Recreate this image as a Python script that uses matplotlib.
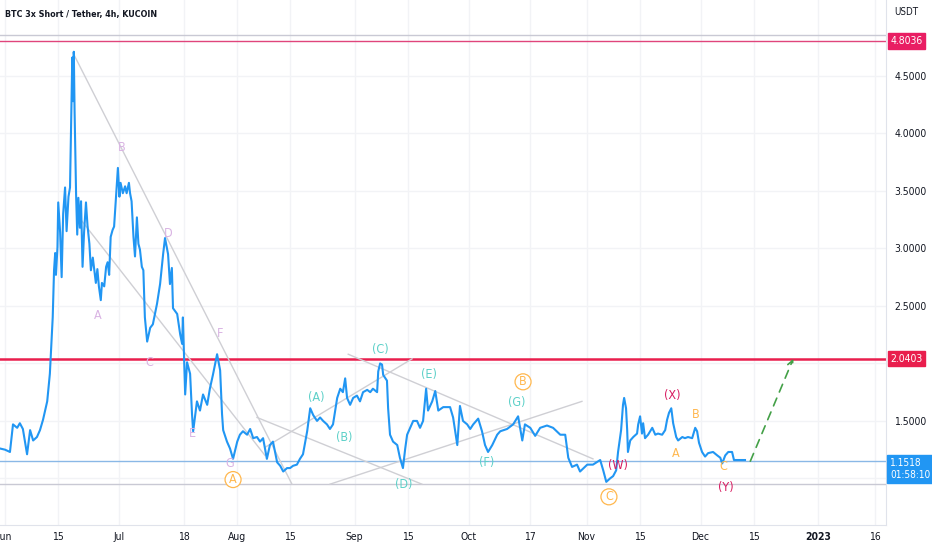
import matplotlib
matplotlib.use("Agg")
import matplotlib.pyplot as plt
import matplotlib.transforms as mtransforms
import numpy as np
import pandas as pd

# Вузький шрифт, як у TradingView
plt.rcParams['font.family'] = ['DejaVu Sans']
plt.rcParams['font.stretch'] = 'condensed'

# Дані ціни (дні від 2022-06-01, ціна в USDT)
days = [-1.3, 0.0, 1.3, 2.1, 3.2, 3.9, 4.7, 5.8, 6.6, 7.4, 8.4, 9.2, 10.0, 11.1, 11.8,
        12.55, 12.9, 13.2, 13.4, 13.8, 14.0, 14.5, 14.9, 15.3, 15.8, 16.2, 16.7, 17.1,
        17.4, 17.7, 17.9, 18.1, 18.3, 18.7, 19.0, 19.3, 19.7, 20.0, 20.4, 20.8, 21.3,
        21.7, 22.2, 22.6, 23.1, 23.5, 23.9, 24.3, 24.7, 25.2, 25.5, 26.1, 26.6, 27.0,
        27.4, 27.8, 28.3, 28.7, 29.2, 29.7, 30.1, 30.4, 31.0, 31.6, 32.0, 32.6, 32.9,
        33.3, 33.8, 34.2, 34.7, 35.1, 35.5, 36.0, 36.4, 36.8,
        37.4, 38.2, 38.9, 40.0, 40.8, 41.6, 42.1, 42.9, 43.4,
        43.9, 44.2, 45.3, 46.1, 46.6, 46.8, 47.4, 47.9, 48.7, 49.2, 49.5, 50.5, 51.3,
        52.1, 53.2, 53.9, 54.7, 55.8, 56.6, 57.1, 57.4, 58.4, 59.2, 60.0, 61.1, 61.8,
        62.6, 63.7, 64.5, 65.3, 66.3, 67.1, 67.9, 68.9, 69.7, 70.5, 71.6, 72.4, 73.2,
        74.2, 75.0, 75.8, 76.8, 77.6, 78.4, 79.5, 80.3, 81.1, 82.1, 82.9, 83.7, 84.7,
        85.5, 86.3, 87.4, 88.2, 88.9, 89.5, 90.0, 90.8, 91.6, 92.6, 93.4, 94.2, 95.3,
        96.1, 96.8, 97.9, 98.2, 98.7, 99.2, 99.5, 100.5, 100.8, 101.3, 102.1, 103.2,
        103.9, 104.7, 105.3, 105.8, 106.6, 107.4, 108.4, 109.2, 110.0, 110.8, 111.3,
        112.4, 113.2, 114.0, 115.3, 116.3, 117.1, 117.9, 119.0, 119.7, 120.5, 121.6,
        122.4, 123.2, 124.5, 125.5, 126.3, 127.1, 128.2, 129.5, 130.3, 132.1, 133.7,
        135.0, 136.1, 136.8, 138.2, 139.5, 140.8, 142.6, 144.2, 146.1, 147.4, 148.2,
        149.2, 150.5, 151.3, 153.2, 154.7,
        156.6, 157.4, 158.2, 159.2, 160.0, 160.8, 161.3, 162.1, 162.6, 162.9, 163.4,
        163.7, 163.9, 164.5, 165.3, 166.3, 166.6, 167.1, 167.6, 167.9, 168.4, 169.2,
        170.3, 171.1, 171.8, 172.9, 173.7, 174.2, 174.7, 175.3, 175.8, 176.6, 177.1,
        178.2, 178.9, 179.7, 180.8, 181.6, 182.1, 182.6, 183.4, 184.2, 185.0, 186.3,
        187.4, 188.2, 188.7, 189.5, 190.3, 191.3, 191.8, 192.9, 194.7]
price = [1.26, 1.25, 1.23, 1.47, 1.44, 1.48, 1.43, 1.21, 1.42, 1.33, 1.36, 1.42, 1.51,
         1.67, 1.91,
         2.40, 2.81, 2.96, 2.77, 3.01, 3.40, 3.14, 2.75, 3.30, 3.53, 3.15, 3.45, 3.53,
         4.09, 4.66, 4.28, 4.71, 4.20, 3.47, 3.12, 3.44, 3.18, 3.41, 2.84, 3.14, 3.40,
         3.20, 3.04, 2.81, 2.92, 2.81, 2.70, 2.82, 2.67, 2.55, 2.70, 2.67, 2.84, 2.88,
         2.77, 3.10, 3.16, 3.19, 3.45, 3.70, 3.45, 3.57, 3.48, 3.54, 3.48, 3.57, 3.48,
         3.41, 3.10, 2.93, 3.27, 3.04, 2.99, 2.84, 2.81, 2.40,
         2.19, 2.31, 2.34, 2.52, 2.69, 2.95, 3.09,
         2.95, 2.69, 2.83, 2.48, 2.43, 2.25, 2.17, 2.40, 1.73, 2.01, 1.91, 1.56, 1.41,
         1.67, 1.59, 1.73, 1.64, 1.78, 1.90, 2.08, 1.94, 1.56, 1.42, 1.32, 1.26, 1.17,
         1.32, 1.38, 1.41, 1.38, 1.43, 1.35, 1.36, 1.32, 1.35, 1.17, 1.29, 1.32, 1.14,
         1.11, 1.06, 1.09, 1.09, 1.11, 1.12, 1.17, 1.21, 1.41, 1.61, 1.55, 1.50, 1.53,
         1.50, 1.47, 1.43, 1.47, 1.70, 1.78, 1.75, 1.87, 1.70, 1.64, 1.70, 1.72, 1.67,
         1.75, 1.77, 1.75, 1.78, 1.75, 1.93, 2.00, 1.99, 1.90, 1.85, 1.61, 1.38, 1.32,
         1.29, 1.18, 1.09, 1.26, 1.38, 1.44, 1.50, 1.50, 1.44, 1.50, 1.78, 1.59, 1.67,
         1.76, 1.59, 1.62, 1.62, 1.62, 1.53, 1.29, 1.63, 1.50, 1.47, 1.43, 1.47, 1.52,
         1.41, 1.29, 1.23, 1.29, 1.38, 1.41, 1.43, 1.47, 1.54, 1.33, 1.47, 1.44, 1.37,
         1.44, 1.46, 1.44, 1.38, 1.38, 1.18, 1.10, 1.12, 1.06, 1.12, 1.12,
         1.16, 1.07, 0.97, 1.00, 1.02, 1.07, 1.23, 1.42, 1.64, 1.70, 1.61,
         1.42, 1.23, 1.33, 1.36, 1.39, 1.47, 1.54, 1.39, 1.48, 1.35, 1.38,
         1.44, 1.38, 1.39, 1.38, 1.42, 1.51, 1.57, 1.61, 1.48, 1.36, 1.33,
         1.36, 1.35, 1.36, 1.35, 1.44, 1.41, 1.31, 1.23, 1.19, 1.22, 1.23,
         1.20, 1.18, 1.13, 1.20, 1.23, 1.23, 1.16, 1.16, 1.16]

# Горизонтальні рівні
red_levels = [4.8036, 2.0403]
last_price = 1.1518
gray_levels = [4.856, 0.951]

# Трендові лінії: (день0, ціна0, день1, ціна1)
trend_lines = [
    (17.9, 4.70, 75.5, 0.95),
    (19.7, 3.26, 68.4, 1.20),
    (66.3, 1.53, 109.7, 0.95),
    (68.4, 1.27, 107.1, 2.04),
    (90.3, 2.08, 154.7, 1.17),
    (85.5, 0.95, 151.8, 1.67),
]

# Хвильова розмітка: (текст, день, ціна, колір, в колі)
lav = '#d9b3e3'
teal = '#5cd0c8'
org = '#ffb74d'
crim = '#d81b60'
wave_labels = [
    ('B', 30.8, 3.88, lav, False), ('A', 24.5, 2.42, lav, False),
    ('D', 42.9, 3.13, lav, False), ('C', 37.9, 2.01, lav, False),
    ('F', 56.6, 2.26, lav, False), ('E', 49.2, 1.39, lav, False),
    ('G', 59.2, 1.13, lav, False),
    ('A', 60.0, 0.99, org, True), ('B', 136.3, 1.84, org, True),
    ('C', 158.9, 0.84, org, True),
    ('(A)', 81.8, 1.70, teal, False), ('(B)', 89.2, 1.36, teal, False),
    ('(C)', 98.7, 2.12, teal, False), ('(D)', 105.0, 0.95, teal, False),
    ('(E)', 111.6, 1.90, teal, False), ('(F)', 126.8, 1.14, teal, False),
    ('(G)', 134.7, 1.66, teal, False),
    ('(W)', 161.3, 1.11, crim, False), ('(X)', 175.5, 1.72, crim, False),
    ('(Y)', 189.7, 0.92, crim, False),
    ('A', 176.6, 1.22, org, False), ('B', 181.6, 1.56, org, False),
    ('C', 188.9, 1.10, org, False),
]

# Прогноз (зелена пунктирна стрілка)
proj_start = (196.1, 1.15)
proj_end = (207.4, 2.04)

# Підписи осі дат
tick_dates = ['2022-06-01', '2022-06-15', '2022-07-01', '2022-07-18', '2022-08-01',
              '2022-08-15', '2022-09-01', '2022-09-15', '2022-10-01', '2022-10-17',
              '2022-11-01', '2022-11-15', '2022-12-01', '2022-12-15', '2023-01-01',
              '2023-01-16']
tick_labels = ['Jun', '15', 'Jul', '18', 'Aug', '15', 'Sep', '15', 'Oct', '17',
               'Nov', '15', 'Dec', '15', '2023', '16']
price_ticks = [1.0, 1.5, 2.0, 2.5, 3.0, 3.5, 4.0, 4.5]
hidden_ticks = [1.0, 2.0]   # сховані під мітками рівнів

base = pd.Timestamp('2022-06-01')


def to_date(d):
    return base + pd.to_timedelta(np.asarray(d), unit='D')


fig = plt.figure(figsize=(9.32, 5.5), dpi=100)
ax = fig.add_axes([0, 25 / 550, 886 / 932, 525 / 550])

ax.set_xlim(to_date(-1.32), to_date(231.8))
ax.set_ylim(0.595, 5.160)

# Сітка
for t in price_ticks:
    ax.axhline(t, color='#f2f3f6', lw=1, zorder=0)
for t in tick_dates:
    ax.axvline(pd.Timestamp(t), color='#f2f3f6', lw=1, zorder=0)

# Рівні
ax.axhline(gray_levels[0], color='#c9c9d4', lw=1, zorder=1)
ax.axhline(gray_levels[1], color='#c9c9d4', lw=1, zorder=1)
ax.axhline(red_levels[0], color='#e0457b', lw=1, zorder=1)
ax.axhline(red_levels[1], color='#e91e4d', lw=1.8, zorder=1)
ax.axhline(last_price, color='#8ab8e6', lw=1, zorder=1)

# Трендові лінії
for d0, p0, d1, p1 in trend_lines:
    ax.plot(to_date([d0, d1]), [p0, p1], color='#cfcfd4', lw=1, zorder=2)

# Ціна
ax.plot(to_date(days), price, color='#2196f3', lw=1.5, zorder=3)

# Хвилі
for txt, d, p, col, circ in wave_labels:
    kw = {}
    if circ:
        kw['bbox'] = dict(boxstyle='circle,pad=0.12', fc='white', ec=col, lw=0.9)
    ax.text(to_date(d), p, txt, color=col, fontsize=9, ha='center', va='center',
            zorder=4, **kw)

# Стрілка прогнозу
ax.annotate('', xy=(to_date(proj_end[0]), proj_end[1]),
            xytext=(to_date(proj_start[0]), proj_start[1]),
            arrowprops=dict(arrowstyle='->', color='#43a047', lw=1.2,
                            linestyle=(0, (5, 4)), shrinkA=0, shrinkB=0),
            zorder=4)

# Осі
ax.set_xticks([pd.Timestamp(t) for t in tick_dates])
ax.set_xticklabels(tick_labels)
for lbl, txt in zip(ax.get_xticklabels(), tick_labels):
    if txt == '2023':
        lbl.set_fontweight('bold')
ax.tick_params(axis='x', length=0, pad=5, labelsize=7.5, labelcolor='#131722')
ax.yaxis.tick_right()
ax.set_yticks(price_ticks)
ax.set_yticklabels(['' if t in hidden_ticks else f'{t:.4f}' for t in price_ticks])
ax.tick_params(axis='y', length=0, pad=6, labelsize=7.5, labelcolor='#131722')
for s in ['top', 'left']:
    ax.spines[s].set_visible(False)
ax.spines['right'].set_color('#e0e3eb')
ax.spines['bottom'].set_color('#e0e3eb')

# Мітки на шкалі цін
trans = mtransforms.blended_transform_factory(ax.transAxes, ax.transData)
for lvl, col in zip(red_levels, ['#e91e63', '#e91e4d']):
    ax.text(1.005, lvl, f'{lvl:.4f}', transform=trans, color='white', fontsize=7.5,
            ha='left', va='center', clip_on=False, zorder=6,
            bbox=dict(boxstyle='square,pad=0.25', fc=col, ec=col))
ax.text(1.005, last_price - 0.07, f'{last_price:.4f}\n01:58:10', transform=trans,
        color='white', fontsize=7.2, ha='left', va='center', clip_on=False, zorder=6,
        linespacing=1.3,
        bbox=dict(boxstyle='square,pad=0.3', fc='#2196f3', ec='#2196f3'))

fig.text(894 / 932, 1 - 12 / 550, 'USDT', fontsize=7, color='#131722', va='center')
fig.text(5 / 932, 1 - 14 / 550, 'BTC 3x Short / Tether, 4h, KUCOIN', fontsize=6.4,
         color='#131722', fontweight='bold', va='center')

fig.savefig('out.png', dpi=100)
